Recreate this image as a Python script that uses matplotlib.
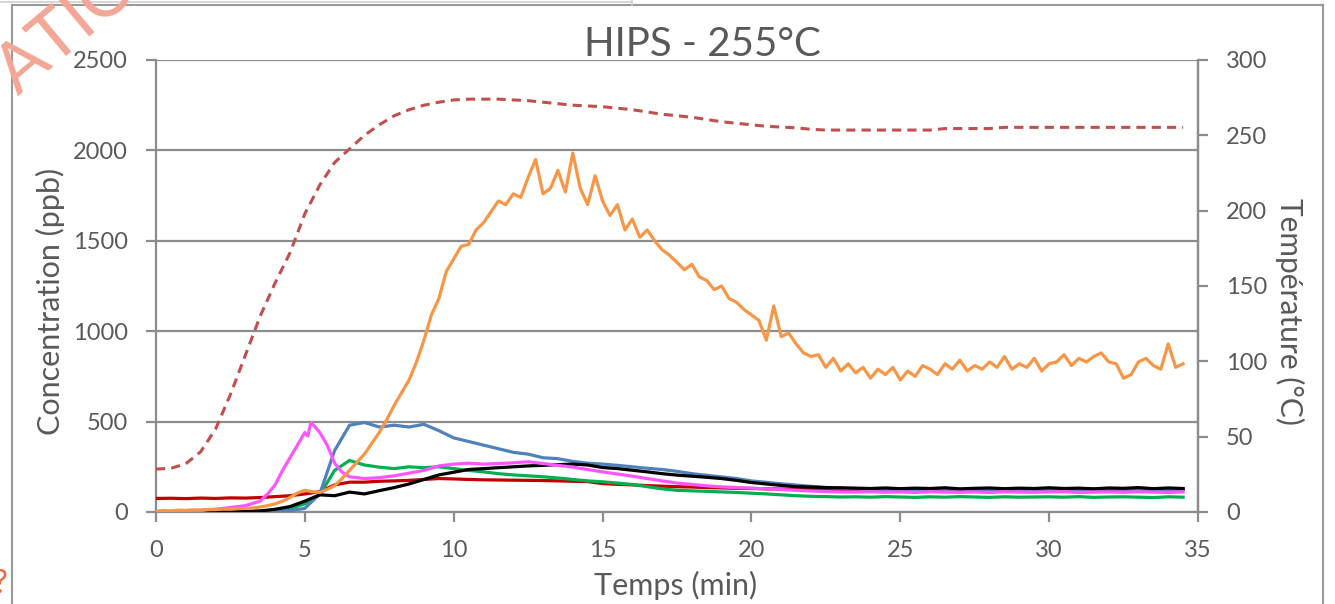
import numpy as np
import matplotlib
matplotlib.use("Agg")
import matplotlib.pyplot as plt
from matplotlib.lines import Line2D

plt.rcParams['font.family'] = ['Lato', 'DejaVu Sans']

# ---------------- data ----------------
title = "HIPS - 255°C"
x_label = "Temps (min)"
y_label = "Concentration (ppb)"
y2_label = "Température (°C)"
x_ticks = [0, 5, 10, 15, 20, 25, 30, 35]
y_ticks = [0, 500, 1000, 1500, 2000, 2500]
y2_ticks = [0, 50, 100, 150, 200, 250, 300]

time_fine = np.arange(0, 34.51, 0.25)   # minutes
time_half = np.arange(0, 34.51, 0.5)    # minutes

orange = [
    5, 8, 6, 10,  9, 12, 10, 14,  13, 16, 15, 18,  20, 22, 28, 35,
    45, 60, 80, 105,  120, 112, 108, 125,  145, 185, 230, 275,  320, 380, 440, 510,
    590, 660, 730, 830,  950, 1090, 1180, 1330,  1400, 1470, 1480, 1560,  1600, 1660, 1720, 1700,
    1760, 1740, 1850, 1950,  1760, 1790, 1890, 1770,  1985, 1790, 1700, 1860,  1720, 1640, 1700, 1560,
    1620, 1520, 1560, 1500,  1450, 1420, 1380, 1340,  1370, 1300, 1280, 1230,  1250, 1180, 1160, 1120,
    1090, 1060, 950, 1140,  970, 990, 930, 880,  860, 870, 800, 850,  780, 820, 770, 800,
    740, 790, 760, 800,  730, 780, 750, 810,  790, 760, 820, 790,  840, 780, 810, 790,
    830, 800, 860, 790,  820, 800, 850, 780,  820, 830, 870, 810,  850, 830, 860, 880,
    830, 820, 740, 760,  830, 850, 810, 790,  930, 800, 820,
]

blue = [
    0, 0, 1, 0, 1, 0, 2, 3, 5, 8,
    20, 100, 340, 480, 495, 470, 480, 470, 485, 450,
    410, 390, 370, 350, 330, 320, 300, 295, 280, 270,
    265, 258, 250, 242, 235, 225, 212, 203, 194, 185,
    172, 164, 156, 149, 142, 136, 131, 128, 126, 124,
    126, 123, 125, 127, 124, 126, 125, 128, 124, 126,
    125, 127, 124, 126, 128, 125, 127, 124, 126, 125,
]

black = [
    0, 0, 0, 1, 0, 2, 3, 6, 15, 30,
    60, 95, 90, 110, 100, 118, 135, 155, 180, 205,
    220, 235, 240, 245, 250, 255, 258, 262, 265, 260,
    246, 240, 231, 222, 212, 204, 198, 192, 185, 175,
    163, 155, 147, 140, 138, 135, 134, 132, 130, 133,
    129, 132, 130, 134, 128, 131, 133, 129, 132, 130,
    134, 130, 132, 128, 133, 131, 135, 129, 133, 130,
]

green = [
    0, 0, 0, 0, 0, 1, 2, 4, 8, 20,
    45, 95, 230, 285, 260, 248, 240, 250, 245, 250,
    240, 230, 222, 212, 205, 200, 195, 188, 180, 172,
    167, 160, 152, 140, 128, 120, 117, 114, 111, 108,
    104, 100, 95, 90, 87, 85, 83, 84, 82, 85,
    83, 81, 84, 82, 85, 83, 81, 84, 82, 83,
    84, 82, 85, 81, 83, 84, 82, 80, 84, 82,
]

darkred = [
    75, 76, 74, 77, 75, 78, 77, 80, 85, 90,
    100, 112, 150, 165, 165, 170, 172, 175, 180, 185,
    183, 180, 178, 177, 176, 175, 174, 172, 170, 168,
    157, 153, 150, 146, 143, 140, 138, 135, 133, 131,
    130, 128, 127, 126, 125, 126, 124, 125, 127, 124,
    126, 125, 124, 127, 125, 126, 124, 126, 125, 127,
    125, 126, 124, 127, 125, 126, 128, 125, 127, 126,
]

magenta_time = [0, 1, 2, 3, 3.5, 3.75, 4, 4.25, 4.5, 4.75, 5.0, 5.1, 5.2, 5.35, 5.5, 5.75,
                6.0, 6.25, 6.5, 7, 7.5, 8, 8.5, 9, 9.5, 10, 10.5, 11, 11.5, 12, 12.5, 13,
                13.5, 14, 14.5, 15, 15.5, 16, 16.5, 17, 17.5, 18, 18.5, 19, 19.5, 20, 20.5,
                21, 21.5, 22, 22.5, 23, 23.5, 24, 24.5, 25, 25.5, 26, 26.5, 27, 27.5, 28,
                28.5, 29, 29.5, 30, 30.5, 31, 31.5, 32, 32.5, 33, 33.5, 34, 34.5]
magenta = [0, 5, 15, 35, 60, 100, 150, 230, 300, 370, 440, 420, 495, 470, 440, 370,
           270, 220, 195, 185, 190, 200, 215, 230, 255, 265, 270, 265, 268, 272, 278, 268,
           258, 248, 235, 222, 210, 198, 185, 172, 160, 152, 145, 139, 135, 132, 128,
           124, 120, 116, 113, 111, 110, 112, 109, 111, 108, 112, 110, 109, 111, 108,
           112, 110, 109, 111, 112, 108, 110, 111, 109, 112, 110, 108, 111]

temperature = [
    28.5, 29, 32, 40, 55, 78, 104, 130, 152, 172,
    198, 217, 232, 241, 250, 257, 263, 267, 270, 272,
    273.5, 274, 274, 274, 273.5, 273, 272, 271, 270, 269.5,
    269, 268, 267, 265.5, 264, 263, 262, 260.5, 259, 258,
    257, 256, 255.5, 255, 254, 253.5, 253.5, 253.5, 253.5, 253.5,
    253.5, 253.5, 253.5, 254.5, 254.5, 254.5, 254.5, 255.3, 255.3, 255.3,
    255.3, 255.3, 255.3, 255.3, 255.3, 255.3, 255.3, 255.3, 255.3, 255.3,
]

# ---------------- style ----------------
W, H = 1335, 604
grid_c = '#8c8c8c'
text_c = '#595959'

fig = plt.figure(figsize=(W / 100, H / 100), dpi=100)
fig.patch.set_facecolor('white')

def fx(px):
    return px / W

def fy(py):
    return 1 - py / H

ax = fig.add_axes([fx(156), fy(512), fx(1198) - fx(156), fy(60) - fy(512)])
ax2 = ax.twinx()

lw = 2.3
ax.plot(time_half, darkred, color='#C00000', lw=lw, zorder=3)
ax.plot(time_half, green, color='#00B050', lw=lw, zorder=4)
ax.plot(time_half, blue, color='#4F81BD', lw=lw, zorder=5)
ax.plot(time_half, black, color='#000000', lw=lw, zorder=6)
ax.plot(magenta_time, magenta, color='#FF55FF', lw=lw, zorder=7)
ax.plot(time_fine, orange, color='#F79646', lw=lw, zorder=8)
ax2.plot(time_half, temperature, color='#C0504D', lw=2.2, ls=(0, (3.0, 2.0)))

ax.set_xlim(0, 35)
ax.set_ylim(0, 2500)
ax2.set_ylim(0, 300)
ax.set_xticks(x_ticks)
ax.set_yticks(y_ticks)
ax2.set_yticks(y2_ticks)

ax.grid(axis='y', color=grid_c, lw=1.6, zorder=0)
ax.set_axisbelow(True)
ax.spines['top'].set_visible(False)
ax2.spines['top'].set_visible(False)
for s in ['left', 'bottom', 'right']:
    ax.spines[s].set_color(grid_c)
    ax.spines[s].set_linewidth(1.6)
ax2.spines['right'].set_color(grid_c)
ax2.spines['right'].set_linewidth(1.6)
ax2.spines['left'].set_visible(False)
ax2.spines['bottom'].set_visible(False)

tick_kw = dict(direction='out', length=7, width=1.6, color=grid_c,
               labelsize=17, labelcolor=text_c, pad=13)
ax.tick_params(axis='both', **tick_kw)
ax2.tick_params(axis='y', **tick_kw)

fig.text(fx(702), fy(56), title, ha='center', va='baseline', fontsize=29, color=text_c)
fig.text(fx(676), fy(585), x_label, ha='center', va='center', fontsize=22, color=text_c)
fig.text(fx(50), fy(301), y_label, ha='center', va='center', rotation=90, fontsize=22, color=text_c)
fig.text(fx(1290), fy(311), y2_label, ha='center', va='center', rotation=270, fontsize=21.5, color=text_c)

# chart frame and neighbouring artefacts
frame_c = '#9a9a9a'
fig.add_artist(Line2D([fx(12), fx(12)], [fy(5), fy(610)], color=frame_c, lw=1.5))
fig.add_artist(Line2D([fx(1323), fx(1323)], [fy(5), fy(610)], color=frame_c, lw=1.5))
fig.add_artist(Line2D([fx(12), fx(1323)], [fy(5), fy(5)], color=frame_c, lw=1.5))
fig.add_artist(Line2D([fx(0), fx(632)], [fy(1.5), fy(1.5)], color='#d0d0d0', lw=1.2))
fig.add_artist(Line2D([fx(632), fx(632)], [fy(0), fy(5)], color='#d0d0d0', lw=1.2))

fig.text(fx(-14), fy(94), "ATION", rotation=40, fontsize=50, fontweight='normal',
         color='#F3A696', ha='left', va='baseline', zorder=20)
fig.text(fx(-7), fy(593), "?", fontsize=24, color='#E86A3C', ha='left', va='baseline')

fig.savefig('out.png', dpi=100)
